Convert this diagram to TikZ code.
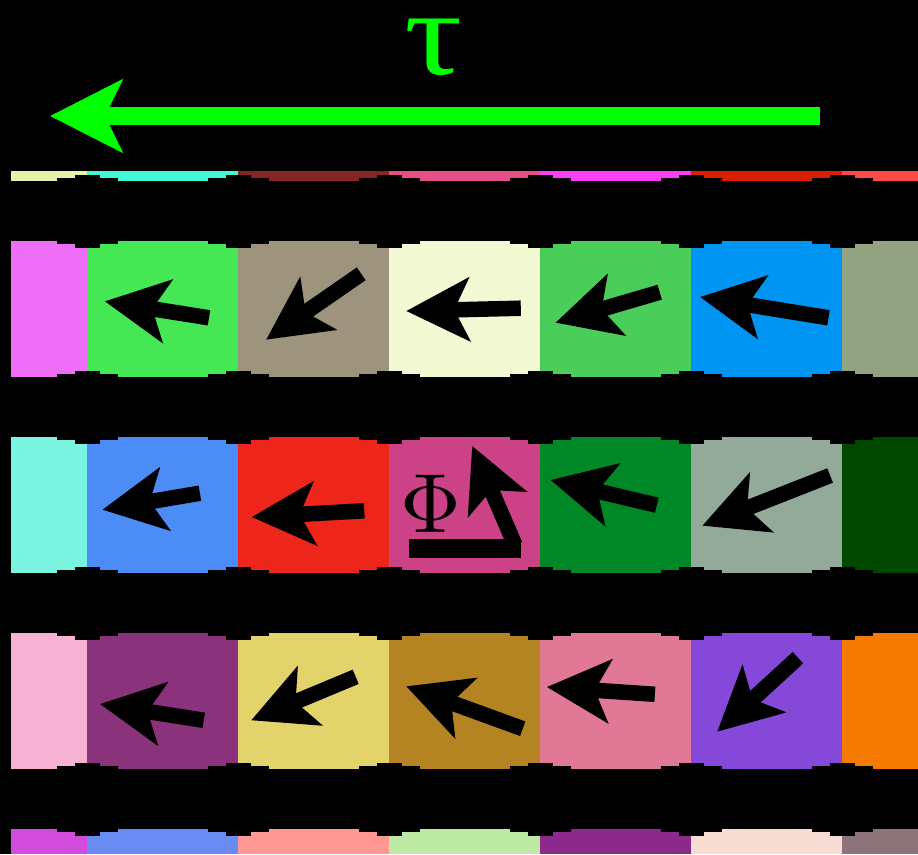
\documentclass[tikz,border=0pt]{standalone}
\usepackage{fontspec}
\usetikzlibrary{arrows.meta}
\newfontfamily\greekserif{Liberation Serif}

% cell colours: c<row><column>
\definecolor{c00}{HTML}{E4F2AC}\definecolor{c01}{HTML}{42F9D6}\definecolor{c02}{HTML}{852624}
\definecolor{c03}{HTML}{E54E86}\definecolor{c04}{HTML}{F940F7}\definecolor{c05}{HTML}{D91F00}
\definecolor{c06}{HTML}{FF4848}
\definecolor{c10}{HTML}{EE6EF7}\definecolor{c11}{HTML}{45E854}\definecolor{c12}{HTML}{9E937C}
\definecolor{c13}{HTML}{F3F9D2}\definecolor{c14}{HTML}{4BCD5A}\definecolor{c15}{HTML}{0095F2}
\definecolor{c16}{HTML}{93A382}
\definecolor{c20}{HTML}{78F4E0}\definecolor{c21}{HTML}{4B8CF7}\definecolor{c22}{HTML}{EE251A}
\definecolor{c23}{HTML}{CB4286}\definecolor{c24}{HTML}{008827}\definecolor{c25}{HTML}{93AA9A}
\definecolor{c26}{HTML}{004700}
\definecolor{c30}{HTML}{F7B3D3}\definecolor{c31}{HTML}{8A327B}\definecolor{c32}{HTML}{E2D46A}
\definecolor{c33}{HTML}{B38421}\definecolor{c34}{HTML}{E07896}\definecolor{c35}{HTML}{8548D8}
\definecolor{c36}{HTML}{F57B00}
\definecolor{c40}{HTML}{D14CDC}\definecolor{c41}{HTML}{6A8CF2}\definecolor{c42}{HTML}{FF9892}
\definecolor{c43}{HTML}{BCE9A4}\definecolor{c44}{HTML}{8C2A8C}\definecolor{c45}{HTML}{F8DDD4}
\definecolor{c46}{HTML}{8B757A}
\definecolor{tauGreen}{HTML}{00FF00}

\begin{document}
\begin{tikzpicture}[x=1pt,y=-1pt,
  vec/.style={black,line width=15.5pt,
    -{Stealth[length=63pt,width=63pt,inset=15pt]}},
  timearrow/.style={tauGreen,line width=18.7pt,
    -{Stealth[length=72pt,width=72pt,inset=17pt]}}]

% background and page size
\fill[black] (0,0) rectangle (918,854);
\useasboundingbox (0,0) rectangle (918,854);

% rows of coloured cells
\foreach \r/\ya/\yb in {0/171/181,1/241/377,2/437/573,3/633/769,4/829/854}
  \foreach \c/\xa/\xb in {0/11/87,1/87/238,2/238/389,3/389/540,4/540/691,5/691/842,6/842/918}
    \fill[fill=c\r\c] (\xa,\ya) rectangle (\xb,\yb);

% stepped black joints between the rows
\foreach \B/\T in {181/241,377/437,573/633,769/829}
  \foreach \x in {87,238,389,540,691,842} {
    \fill[black] (\x-30.5,\B-3) rectangle (\x+30.5,\T+3);
    \fill[black] (\x-12.5,\B-6.5) rectangle (\x+12.5,\T+6.5);
  }

% time direction
\draw[timearrow] (820,116) -- (50,116);
\node[text=tauGreen,inner sep=0pt,xscale=1.45,yscale=1.21] (tau) at (434,47)
  {\greekserif\fontsize{100}{100}\selectfont τ};

% first row of vectors
\draw[vec] (209.0,317.8) -- (104.8,301.3);
\draw[vec] (361.2,273.8) -- (266.1,339.7);
\draw[vec] (520.8,308.2) -- (406.2,311.0);
\draw[vec] (659.7,292.2) -- (555.5,322.7);
\draw[vec] (828.5,317.8) -- (700.0,297.0);

% second row of vectors
\draw[vec] (199.9,493.2) -- (102.4,509.7);
\draw[vec] (364.3,510.8) -- (251.7,517.0);
\draw[vec] (515.0,545.0) -- (472.2,446.0);
\fill[black] (408.6,539.3) rectangle (521.3,557.7);
\node[black,scale=8.4] (phi) at (430.5,503.5) {$\Phi$};
\draw[vec] (656.8,505.2) -- (550.6,480.0);
\draw[vec] (830.1,475.5) -- (702.3,525.7);

% third row of vectors
\draw[vec] (203.8,720.3) -- (100.0,704.0);
\draw[vec] (355.7,676.8) -- (251.2,720.3);
\draw[vec] (522.7,728.7) -- (406.2,686.3);
\draw[vec] (654.9,694.3) -- (546.8,687.0);
\draw[vec] (797.9,657.7) -- (717.2,731.7);
\end{tikzpicture}
\end{document}
